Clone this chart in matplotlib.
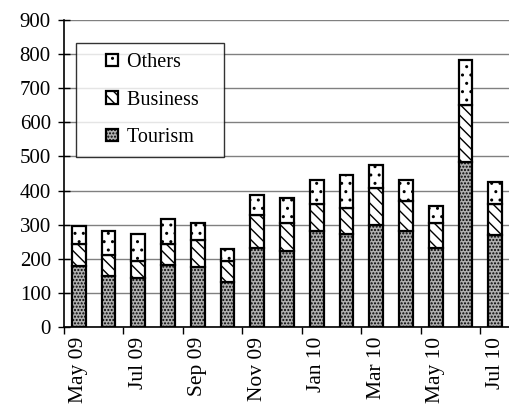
import numpy as np
import matplotlib.pyplot as plt
from matplotlib.patches import Rectangle
from matplotlib.legend_handler import HandlerPatch

plt.rcParams['font.family'] = ['Liberation Serif', 'DejaVu Serif']
plt.rcParams['hatch.linewidth'] = 1.0

months = ['May 09', 'Jun 09', 'Jul 09', 'Aug 09', 'Sep 09', 'Oct 09', 'Nov 09', 'Dec 09',
          'Jan 10', 'Feb 10', 'Mar 10', 'Apr 10', 'May 10', 'Jun 10', 'Jul 10']
tourism = [178, 150, 145, 183, 177, 133, 233, 222, 282, 272, 298, 282, 232, 485, 270]
business = [65, 62, 50, 60, 78, 62, 95, 83, 78, 78, 110, 88, 73, 165, 90]
others = [52, 70, 77, 73, 50, 33, 60, 72, 72, 96, 66, 62, 50, 133, 65]

x = np.arange(len(months))
w = 0.46

fig = plt.figure(figsize=(5.1, 4.13), dpi=100)
ax = fig.add_axes([0.1255, 0.208, 0.8745, 0.744])

b1 = ax.bar(x, tourism, w, color='#b0b0b0', edgecolor='black', hatch='.....', linewidth=1.6, zorder=3)
b2 = ax.bar(x, business, w, bottom=tourism, color='white', edgecolor='black', hatch='\\\\\\',
            linewidth=1.6, zorder=3)
bot2 = np.array(tourism) + np.array(business)
b3 = ax.bar(x, others, w, bottom=bot2, color='white', edgecolor='black', hatch='..',
            linewidth=1.6, zorder=3)

ax.set_ylim(0, 900)
ax.set_yticks(range(0, 901, 100))
ax.set_xlim(-0.5, len(months) - 0.5)
ax.yaxis.grid(True, color='#808080', linewidth=1, zorder=0)

ax.set_xticks(x[::2])
ax.set_xticklabels(months[::2], rotation=90, fontsize=15.5)
ax.set_xticks(np.arange(-0.5, len(months), 2), minor=True)
ax.tick_params(axis='x', which='major', length=0, pad=7)
ax.tick_params(axis='x', which='minor', length=5, width=1, direction='out')
ax.tick_params(axis='y', labelsize=15, length=9, width=1, direction='inout', pad=5)

for s in ['top', 'right']:
    ax.spines[s].set_visible(False)
ax.spines['left'].set_linewidth(1.2)
ax.spines['bottom'].set_linewidth(1.2)


# small square handle drawn at the right end of a wider handle box
def small_square(legend, orig_handle, xdescent, ydescent, width, height, fontsize):
    s = 0.62 * fontsize
    return Rectangle((-xdescent + width - s, -ydescent + (height - s) / 2), s, s)


handles = [b3.patches[0], b2.patches[0], b1.patches[0]]
leg = ax.legend(handles, ['Others', 'Business', 'Tourism'], loc='upper left',
                bbox_to_anchor=(0.027, 0.925), fontsize=14.5, frameon=True, fancybox=False,
                edgecolor='black', handlelength=1.6, handleheight=0.7, labelspacing=0.92,
                borderpad=0.5, handletextpad=0.45, borderaxespad=0,
                handler_map={h: HandlerPatch(patch_func=small_square) for h in handles})
leg.get_frame().set_linewidth(1)
leg.set_zorder(5)
for t in leg.get_texts():
    t.set_text(t.get_text() + '   ')

fig.savefig('out.png', dpi=100)
